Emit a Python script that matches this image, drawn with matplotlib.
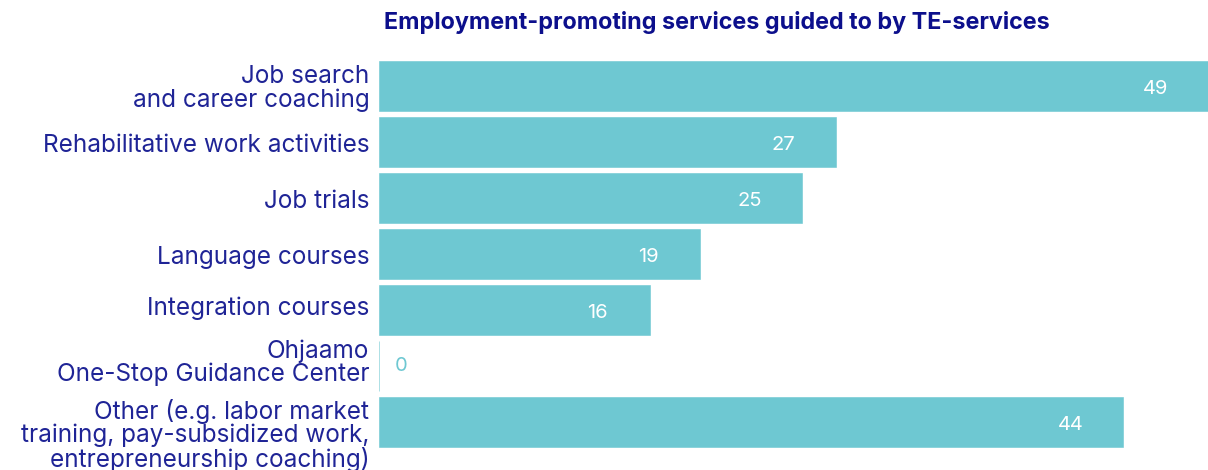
import matplotlib
matplotlib.use("Agg")
import matplotlib.pyplot as plt
from matplotlib.transforms import ScaledTranslation

categories = [
    "Job search\nand career coaching",
    "Rehabilitative work activities",
    "Job trials",
    "Language courses",
    "Integration courses",
    "Ohjaamo\nOne-Stop Guidance Center",
    "Other (e.g. labor market\ntraining, pay-subsidized work,\nentrepreneurship coaching)",
]
values = [49, 27, 25, 19, 16, 0, 44]
title = "Employment-promoting services guided to by TE-services"

BAR = "#6ec8d2"
LABEL = "#1f2496"
TITLE = "#0c0f8c"

plt.rcParams["font.family"] = ["Inter", "DejaVu Sans"]

W, H = 1208, 470
fig = plt.figure(figsize=(W / 100, H / 100), dpi=100)
ax_top, ax_left = 55, 379
ax = fig.add_axes([ax_left / W, 0, 1 - ax_left / W, (H - ax_top) / H])

y = list(range(len(values)))
ax.barh(y, values, height=0.893, color=BAR, edgecolor=BAR, linewidth=0.4)

ax.set_xlim(0, 49)
ax.set_ylim((H - 86) / 56, (ax_top - 86) / 56)

ax.set_yticks(y)
ax.set_yticklabels(categories, fontsize=17.5, color=LABEL, linespacing=1.0)
ax.tick_params(axis="y", length=0, pad=7)
ax.set_xticks([])
for s in ax.spines.values():
    s.set_visible(False)

# nudge the crowded multi-line labels so they do not collide (points, +up)
nudges = [0, -1, -1, -1, 3, 4, -8]
for lab, dy in zip(ax.get_yticklabels(), nudges):
    lab.set_transform(lab.get_transform() + ScaledTranslation(0, dy / 72, fig.dpi_scale_trans))

for i, v in enumerate(values):
    if v > 0:
        ax.text(v - 3.1, i + 0.06, str(v), ha="center", va="center",
                color="white", fontsize=14.5)
    else:
        ax.text(v + 1.3, i, str(v), ha="center", va="center",
                color=BAR, fontsize=14.5)

fig.text(717 / W, 1 - 23 / H, title, ha="center", va="center",
         color=TITLE, fontsize=16.8, fontweight="bold")

fig.savefig("out.png", dpi=100)
